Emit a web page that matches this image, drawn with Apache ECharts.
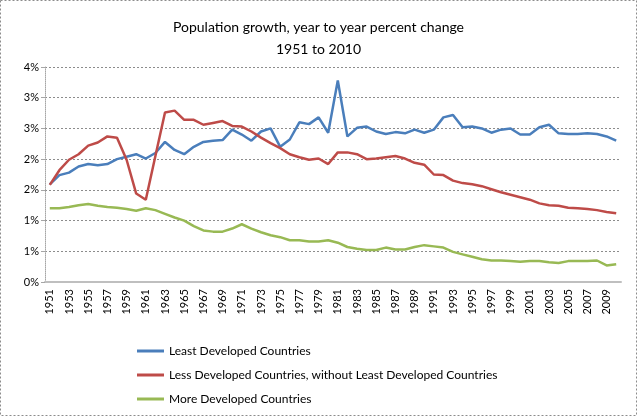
<!DOCTYPE html>
<html>
<head>
<meta charset="utf-8">
<script src="https://cdn.jsdelivr.net/npm/echarts@6/dist/echarts.min.js"></script>
<style>
  html, body { margin: 0; padding: 0; background: #fff; }
  #chart_main { width: 637px; height: 416px; }
</style>
</head>
<body>
<div id="chart_main"></div>
<script>
var years = []
for (var y = 1951; y <= 2010; y++) years.push(String(y))

var leastDeveloped = [
  1.59, 1.74, 1.78, 1.88, 1.92, 1.90, 1.92, 2.00, 2.04, 2.08,
  2.01, 2.10, 2.28, 2.15, 2.08, 2.20, 2.28, 2.30, 2.31, 2.48,
  2.40, 2.30, 2.45, 2.50, 2.20, 2.32, 2.60, 2.57, 2.68, 2.43,
  3.28, 2.37, 2.51, 2.53, 2.45, 2.41, 2.44, 2.42, 2.48, 2.43,
  2.48, 2.68, 2.72, 2.52, 2.53, 2.50, 2.43, 2.48, 2.50, 2.40,
  2.40, 2.52, 2.56, 2.42, 2.41, 2.41, 2.42, 2.41, 2.37, 2.30
]
var lessDeveloped = [
  1.58, 1.82, 1.99, 2.08, 2.22, 2.27, 2.37, 2.35, 1.99, 1.44,
  1.34, 2.05, 2.76, 2.79, 2.64, 2.64, 2.56, 2.59, 2.62, 2.54,
  2.53, 2.45, 2.35, 2.26, 2.18, 2.08, 2.03, 1.99, 2.01, 1.92,
  2.11, 2.11, 2.08, 2.00, 2.01, 2.03, 2.05, 2.01, 1.94, 1.91,
  1.75, 1.74, 1.65, 1.61, 1.59, 1.56, 1.51, 1.46, 1.42, 1.38,
  1.34, 1.28, 1.25, 1.24, 1.21, 1.20, 1.19, 1.17, 1.14, 1.12
]
var moreDeveloped = [
  1.20, 1.20, 1.22, 1.25, 1.27, 1.24, 1.22, 1.21, 1.19, 1.16,
  1.20, 1.17, 1.11, 1.05, 1.00, 0.91, 0.84, 0.82, 0.82, 0.87,
  0.94, 0.87, 0.81, 0.76, 0.73, 0.68, 0.68, 0.66, 0.66, 0.68,
  0.64, 0.57, 0.54, 0.52, 0.52, 0.56, 0.53, 0.53, 0.57, 0.60,
  0.58, 0.56, 0.49, 0.45, 0.41, 0.37, 0.35, 0.35, 0.34, 0.33,
  0.34, 0.34, 0.32, 0.31, 0.34, 0.34, 0.34, 0.35, 0.27, 0.29
]

// Excel rounded the 0.5 steps, so the labels repeat
var yTickLabels = ['0%', '1%', '1%', '2%', '2%', '3%', '3%', '4%']

var seriesNames = [
  'Least Developed Countries',
  'Less Developed Countries, without Least Developed Countries',
  'More Developed Countries'
]
var seriesColors = ['#4a7ebb', '#be4b48', '#98b954']

const chartMain = echarts.init(document.getElementById('chart_main'))

var font = 'Lato, "Open Sans", sans-serif'

function makeLine (name, data, color) {
  return {
    name: name,
    type: 'line',
    data: data,
    symbol: 'none',
    lineStyle: { color: color, width: 2.5 },
    itemStyle: { color: color }
  }
}

chartMain.setOption({
  animation: false,
  textStyle: { fontFamily: font },
  title: {
    text: 'Population growth, year to year percent change\n1951 to 2010',
    left: 'center',
    top: 11,
    textStyle: {
      fontFamily: font,
      fontSize: 14,
      fontWeight: 'normal',
      color: '#000',
      lineHeight: 22
    }
  },
  graphic: [{
    type: 'rect',
    shape: { x: 0.5, y: 0.5, width: 636, height: 415 },
    style: { fill: 'none', stroke: '#8c8c8c', lineWidth: 1, lineDash: [2, 2] },
    silent: true
  }],
  legend: {
    orient: 'vertical',
    left: 132,
    top: 340,
    itemWidth: 27,
    itemHeight: 3,
    itemGap: 12,
    icon: 'rect',
    textStyle: { fontFamily: font, fontSize: 12, color: '#000' },
    data: seriesNames
  },
  grid: {
    left: 45,
    right: 16,
    top: 67,
    bottom: 134
  },
  xAxis: {
    type: 'category',
    data: years,
    boundaryGap: true,
    axisLine: { lineStyle: { color: '#bfbfbf', width: 2 } },
    axisTick: {
      interval: 0,
      length: 4,
      lineStyle: { color: '#a6a6a6', type: 'dotted' }
    },
    axisLabel: {
      interval: 1,
      rotate: 90,
      margin: 7,
      fontSize: 11,
      color: '#000',
      fontFamily: font
    },
    splitLine: { show: false }
  },
  yAxis: {
    type: 'value',
    min: 0,
    max: 3.5,
    interval: 0.5,
    axisLine: { show: true, lineStyle: { color: '#a6a6a6', type: 'dotted' } },
    axisTick: { show: true, length: 4, lineStyle: { color: '#a6a6a6' } },
    axisLabel: {
      fontSize: 11,
      color: '#000',
      fontFamily: font,
      margin: 6,
      formatter: function (v) {
        return yTickLabels[Math.round(v / 0.5)]
      }
    },
    splitLine: { lineStyle: { color: '#8c8c8c', type: [2, 2] } }
  },
  series: [
    makeLine(seriesNames[0], leastDeveloped, seriesColors[0]),
    makeLine(seriesNames[1], lessDeveloped, seriesColors[1]),
    makeLine(seriesNames[2], moreDeveloped, seriesColors[2])
  ]
})
</script>
</body>
</html>
